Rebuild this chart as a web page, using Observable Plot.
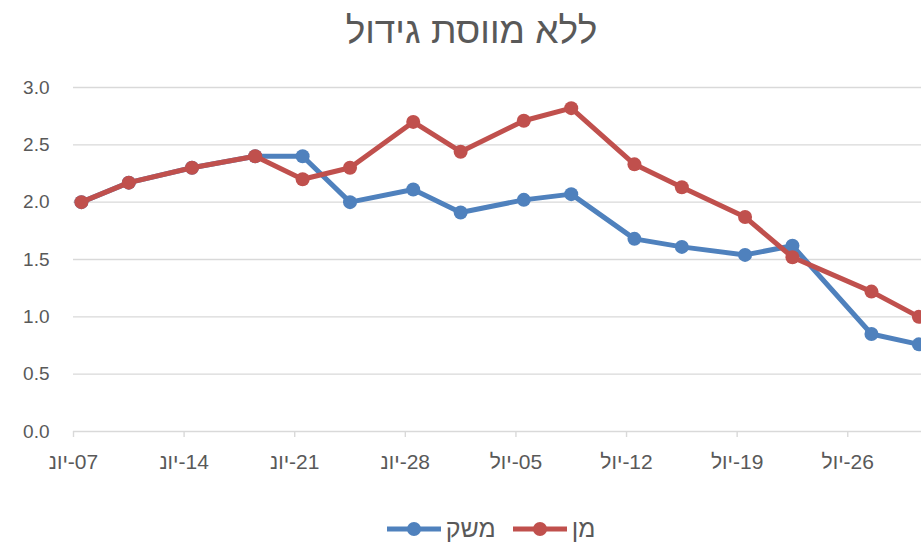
<!DOCTYPE html>
<html>
<head>
<meta charset="utf-8">
<script src="https://cdn.jsdelivr.net/npm/d3@7"></script>
<script src="https://cdn.jsdelivr.net/npm/@observablehq/plot@0.6"></script>
<style>
  body { margin: 0; background: white; font-family: "Liberation Sans", Arial, sans-serif; }
  #title { height: 60px; line-height: 62px; text-align: center; font-size: 37px; color: #595959; padding-left: 22px; }
  #legend { height: 41px; display: flex; justify-content: center; align-items: center; direction: rtl; font-size: 25px; color: #595959; padding-left: 44px; padding-top: 6px; box-sizing: border-box; }
  .item { display: flex; align-items: center; margin-left: 16px; }
  .item span { margin-left: 4px; }
</style>
</head>
<body>
<div id="title">ללא מווסת גידול</div>
<div id="chart"></div>
<div id="legend"></div>
<script>
const dates = ["2020-06-07","2020-06-10","2020-06-14","2020-06-18","2020-06-21","2020-06-24","2020-06-28","2020-07-01","2020-07-05","2020-07-08","2020-07-12","2020-07-15","2020-07-19","2020-07-22","2020-07-27","2020-07-30"];
const meshek = [2.0, 2.17, 2.30, 2.40, 2.40, 2.0, 2.11, 1.91, 2.02, 2.07, 1.68, 1.61, 1.54, 1.62, 0.85, 0.76];
const man    = [2.0, 2.17, 2.30, 2.40, 2.20, 2.30, 2.70, 2.44, 2.71, 2.82, 2.33, 2.13, 1.87, 1.52, 1.22, 1.00];
const seriesNames = ["משק", "מן"];
const seriesColors = ["#4f81bd", "#c0504d"];
const tickDates = ["2020-06-07","2020-06-14","2020-06-21","2020-06-28","2020-07-05","2020-07-12","2020-07-19","2020-07-26"];
const tickLabels = ["07-יונ","14-יונ","21-יונ","28-יונ","05-יול","12-יול","19-יול","26-יול"];
const yTicks = [0, 0.5, 1.0, 1.5, 2.0, 2.5, 3.0];

const HALF_DAY = 12 * 3600 * 1000;
const toRows = (vals, name) => dates.map((d, i) => ({date: new Date(new Date(d).getTime() + HALF_DAY), value: vals[i], series: name}));
const rowsMeshek = toRows(meshek, seriesNames[0]);
const rowsMan = toRows(man, seriesNames[1]);
const tickDateObjs = tickDates.map(d => new Date(d));
const labelFor = d => "\u200F" + tickLabels[tickDateObjs.findIndex(t => t.getTime() === d.getTime())];

const chart = Plot.plot({
  width: 921,
  height: 445,
  marginLeft: 73,
  marginRight: 0,
  marginTop: 27,
  marginBottom: 74,
  style: { fontFamily: "'Liberation Sans', Arial, sans-serif", fontSize: "20px", color: "#595959", background: "white", overflow: "visible" },
  x: { type: "utc", domain: [new Date("2020-06-07"), new Date(new Date("2020-07-30").getTime() + 16 * 3600 * 1000)] },
  y: { domain: [0, 3] },
  marks: [
    Plot.gridY(yTicks, { stroke: "#d9d9d9", strokeOpacity: 1, strokeWidth: 1.4 }),
    Plot.axisY(yTicks, { tickSize: 0, tickPadding: 24, tickFormat: d3.format(".1f"), fill: "#595959", fontSize: 19, label: null }),
    Plot.axisX(tickDateObjs, { tickSize: 6, tickPadding: 17, stroke: "#d9d9d9", strokeWidth: 1.4, strokeOpacity: 1, tickFormat: labelFor, fill: "#595959", fontSize: 21, label: null }),
    Plot.line(rowsMeshek, { x: "date", y: "value", stroke: seriesColors[0], strokeWidth: 5 }),
    Plot.dot(rowsMeshek, { x: "date", y: "value", fill: seriesColors[0], r: 7 }),
    Plot.line(rowsMan, { x: "date", y: "value", stroke: seriesColors[1], strokeWidth: 5 }),
    Plot.dot(rowsMan, { x: "date", y: "value", fill: seriesColors[1], r: 7 })
  ]
});
document.getElementById("chart").appendChild(chart);

const legend = document.getElementById("legend");
[1, 0].forEach(i => {
  const item = document.createElement("div");
  item.className = "item";
  item.innerHTML = `<span>${seriesNames[i]}</span><svg width="56" height="16"><line x1="1" y1="8" x2="55" y2="8" stroke="${seriesColors[i]}" stroke-width="5"/><circle cx="28" cy="8" r="7" fill="${seriesColors[i]}"/></svg>`;
  legend.appendChild(item);
});
</script>
</body>
</html>
